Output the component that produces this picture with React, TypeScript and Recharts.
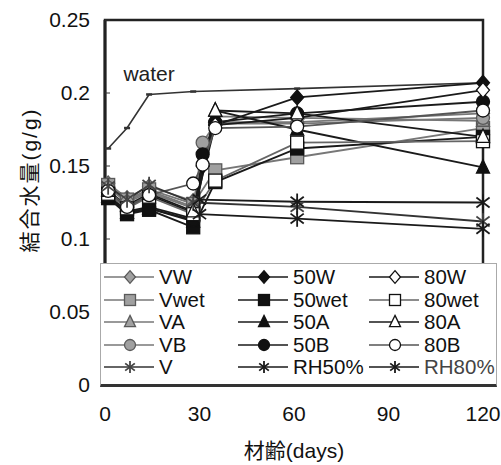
import React from 'react';
import {
  LineChart,
  Line,
  XAxis,
  YAxis,
  ReferenceArea,
  ReferenceDot,
  Legend,
} from 'recharts';

const FONT = "'Liberation Sans', Arial, 'Noto Sans CJK JP', sans-serif";

// days on which each group was measured
const DAYS_STD = [1, 7, 14, 28, 35, 61, 120];
const DAYS_B = [1, 7, 14, 28, 31, 35, 61, 120];
const DAYS_V = [1, 7, 14, 28, 61, 120];
const DAYS_RH = [30, 61, 120];
const DAYS_WATER = [1, 7, 14, 28, 61, 120];

const xTicks = [0, 30, 60, 90, 120];
const yTicks = [0, 0.05, 0.1, 0.15, 0.2, 0.25];

// bound water (g/g)
const waterValues = [0.162, 0.176, 0.199, 0.201, 0.203, 0.207];

const vwValues = [0.138, 0.128, 0.136, 0.126, 0.18, 0.18, 0.186];
const vwetValues = [0.137, 0.127, 0.134, 0.124, 0.147, 0.156, 0.176];
const vaValues = [0.136, 0.126, 0.133, 0.122, 0.184, 0.183, 0.181];
const vbValues = [0.135, 0.125, 0.132, 0.121, 0.166, 0.179, 0.179, 0.183];
const vValues = [0.136, 0.127, 0.137, 0.125, 0.122, 0.112];

const w50Values = [0.13, 0.119, 0.122, 0.114, 0.15, 0.178, 0.197, 0.207];
const wet50Values = [0.128, 0.117, 0.12, 0.108, 0.139, 0.162, 0.17];
const a50Values = [0.129, 0.118, 0.121, 0.112, 0.188, 0.175, 0.149];
const b50Values = [0.129, 0.118, 0.121, 0.113, 0.158, 0.18, 0.186, 0.194];

const w80Values = [0.132, 0.122, 0.13, 0.118, 0.178, 0.183, 0.202];
const wet80Values = [0.131, 0.121, 0.129, 0.117, 0.14, 0.166, 0.167];
const a80Values = [0.133, 0.123, 0.131, 0.119, 0.188, 0.186, 0.17];
const b80Values = [0.133, 0.122, 0.13, 0.138, 0.151, 0.176, 0.177, 0.188];

const rh50Values = [0.127, 0.1255, 0.125];
const rh80Values = [0.117, 0.114, 0.107];

type Shape = 'diamond' | 'square' | 'triangle' | 'circle' | 'star' | 'dash';

interface Series {
  name: string;
  days: number[];
  values: number[];
  shape: Shape;
  fill: string;
  stroke: string;
  line: string;
}

const GRAY = '#a0a0a0';
const GRAY_EDGE = '#5a5a5a';
const BLACK = '#111';

const vSeries: Series[] = [
  { name: 'VW', days: DAYS_STD, values: vwValues, shape: 'diamond', fill: GRAY, stroke: GRAY_EDGE, line: '#777' },
  { name: 'Vwet', days: DAYS_STD, values: vwetValues, shape: 'square', fill: GRAY, stroke: GRAY_EDGE, line: '#777' },
  { name: 'VA', days: DAYS_STD, values: vaValues, shape: 'triangle', fill: GRAY, stroke: GRAY_EDGE, line: '#777' },
  { name: 'VB', days: DAYS_B, values: vbValues, shape: 'circle', fill: GRAY, stroke: GRAY_EDGE, line: '#777' },
  { name: 'V', days: DAYS_V, values: vValues, shape: 'star', fill: 'none', stroke: '#444', line: '#333' },
];

const s50: Series[] = [
  { name: '50W', days: DAYS_B, values: w50Values, shape: 'diamond', fill: BLACK, stroke: BLACK, line: '#1a1a1a' },
  { name: '50wet', days: DAYS_STD, values: wet50Values, shape: 'square', fill: BLACK, stroke: BLACK, line: '#1a1a1a' },
  { name: '50A', days: DAYS_STD, values: a50Values, shape: 'triangle', fill: BLACK, stroke: BLACK, line: '#1a1a1a' },
  { name: '50B', days: DAYS_B, values: b50Values, shape: 'circle', fill: BLACK, stroke: BLACK, line: '#1a1a1a' },
  { name: 'RH50%', days: DAYS_RH, values: rh50Values, shape: 'star', fill: 'none', stroke: '#1a1a1a', line: '#1a1a1a' },
];

const s80: Series[] = [
  { name: '80W', days: DAYS_STD, values: w80Values, shape: 'diamond', fill: '#fff', stroke: BLACK, line: '#1a1a1a' },
  { name: '80wet', days: DAYS_STD, values: wet80Values, shape: 'square', fill: '#fff', stroke: BLACK, line: '#666' },
  { name: '80A', days: DAYS_STD, values: a80Values, shape: 'triangle', fill: '#fff', stroke: BLACK, line: '#1a1a1a' },
  { name: '80B', days: DAYS_B, values: b80Values, shape: 'circle', fill: '#fff', stroke: BLACK, line: '#555' },
  { name: 'RH80%', days: DAYS_RH, values: rh80Values, shape: 'star', fill: 'none', stroke: '#1a1a1a', line: '#1a1a1a' },
];

const legendColumns = [vSeries, s50, s80];
const drawOrder = [...vSeries.slice(0, 4), ...s50.slice(0, 4), ...s80.slice(0, 4), vSeries[4], s50[4], s80[4]];

const toPoints = (days: number[], values: number[]) =>
  days.map((d, i) => ({ d, v: values[i] }));

function Marker({ shape, cx, cy, s, fill, stroke }: { shape: Shape; cx: number; cy: number; s: number; fill: string; stroke: string }) {
  if (cx == null || cy == null) return null;
  switch (shape) {
    case 'diamond':
      return <polygon points={`${cx},${cy - s * 1.15} ${cx + s},${cy} ${cx},${cy + s * 1.15} ${cx - s},${cy}`} fill={fill} stroke={stroke} strokeWidth={1.3} />;
    case 'square':
      return <rect x={cx - s} y={cy - s} width={2 * s} height={2 * s} fill={fill} stroke={stroke} strokeWidth={1.3} />;
    case 'triangle':
      return <polygon points={`${cx},${cy - s * 1.2} ${cx + s},${cy + s * 0.85} ${cx - s},${cy + s * 0.85}`} fill={fill} stroke={stroke} strokeWidth={1.3} />;
    case 'circle':
      return <circle cx={cx} cy={cy} r={s} fill={fill} stroke={stroke} strokeWidth={1.3} />;
    case 'star': {
      const a = s * 1.1;
      const dx = a * 0.8;
      const dy = a * 0.6;
      return (
        <g stroke={stroke} strokeWidth={1.8}>
          <line x1={cx} y1={cy - a} x2={cx} y2={cy + a} />
          <line x1={cx - dx} y1={cy - dy} x2={cx + dx} y2={cy + dy} />
          <line x1={cx - dx} y1={cy + dy} x2={cx + dx} y2={cy - dy} />
        </g>
      );
    }
    case 'dash':
      return <line x1={cx - 3} y1={cy} x2={cx + 3} y2={cy} stroke={stroke} strokeWidth={2.5} />;
  }
  return null;
}

function LegendBox() {
  const colX = [3, 137, 268];
  return (
    <div
      style={{
        position: 'relative',
        width: 397,
        height: 124,
        boxSizing: 'border-box',
        background: '#fff',
        borderTop: '1px solid #aaa',
        borderLeft: '1px solid #aaa',
        borderRight: '1px solid #aaa',
        borderBottom: '3px solid #333',
        fontFamily: FONT,
      }}
    >
      {legendColumns.map((col, c) =>
        col.map((s, r) => (
          <div
            key={s.name}
            style={{
              position: 'absolute',
              left: colX[c],
              top: 2 + r * 22.5,
              height: 22.5,
              display: 'flex',
              alignItems: 'center',
            }}
          >
            <svg width={52} height={22} style={{ display: 'block' }}>
              <line x1={0} y1={11} x2={50} y2={11} stroke={s.line} strokeWidth={1.6} />
              <Marker shape={s.shape} cx={26} cy={11} s={5.5} fill={s.fill} stroke={s.stroke} />
            </svg>
            <span style={{ marginLeft: 3, fontSize: 20.5, color: s.name === 'RH80%' ? '#444' : '#111', lineHeight: '22px' }}>
              {s.name}
            </span>
          </div>
        ))
      )}
    </div>
  );
}

const YLabel = () => (
  <text
    x={29}
    y={180}
    transform="rotate(-90 29 180)"
    textAnchor="middle"
    dominantBaseline="central"
    fontSize={21}
    fill="#111"
    fontFamily={FONT}
    letterSpacing={2}
  >
    結合水量(g/g)
  </text>
);

export default function App() {
  return (
    <div style={{ position: 'absolute', left: 0, top: 0, width: 501, height: 465, background: '#fff' }}>
      <LineChart width={501} height={465} margin={{ top: 20, right: 18, bottom: 20, left: 0 }}>
        <XAxis
          dataKey="d"
          type="number"
          domain={[0, 120]}
          ticks={xTicks}
          interval={0}
          height={60}
          tickLine={false}
          tickSize={0}
          tickMargin={21}
          axisLine={{ stroke: '#222', strokeWidth: 2.5 }}
          tick={{ fontSize: 21, fill: '#111', fontFamily: FONT }}
          label={{ value: '材齢(days)', position: 'insideBottom', offset: -13, fontSize: 21, fill: '#111', fontFamily: FONT }}
        />
        <YAxis
          type="number"
          domain={[0, 0.25]}
          ticks={yTicks}
          interval={0}
          width={105}
          tickSize={-5}
          tickMargin={20}
          tickFormatter={(v) => String(v)}
          tickLine={{ stroke: '#333' }}
          axisLine={{ stroke: '#222', strokeWidth: 3 }}
          tick={{ fontSize: 21, fill: '#111', fontFamily: FONT }}
          label={{ content: () => <YLabel /> }}
        />
        <ReferenceArea x1={0} x2={120} y1={0} y2={0.25} fill="none" stroke="#222" strokeWidth={2.5} />
        <ReferenceDot
          x={14}
          y={0.213}
          r={1}
          fill="none"
          stroke="none"
          label={{ value: 'water', position: 'center', fontSize: 21, fill: '#222', fontFamily: FONT }}
        />
        <Line
          data={toPoints(DAYS_WATER, waterValues)}
          dataKey="v"
          type="linear"
          stroke="#333"
          strokeWidth={1.6}
          isAnimationActive={false}
          activeDot={false}
          dot={(p: any) => <Marker key={`water-${p.index}`} shape="dash" cx={p.cx} cy={p.cy} s={3} fill="#333" stroke="#333" />}
        />
        {drawOrder.map((s) => (
          <Line
            key={s.name}
            name={s.name}
            data={toPoints(s.days, s.values)}
            dataKey="v"
            type="linear"
            stroke={s.line}
            strokeWidth={1.8}
            isAnimationActive={false}
            activeDot={false}
            dot={(p: any) => (
              <Marker key={`${s.name}-${p.index}`} shape={s.shape} cx={p.cx} cy={p.cy} s={s.shape === 'star' ? 7.5 : 6.5} fill={s.fill} stroke={s.stroke} />
            )}
          />
        ))}
        <Legend
          verticalAlign="middle"
          align="center"
          layout="horizontal"
          content={() => <LegendBox />}
          wrapperStyle={{ left: 100, top: 263, width: 397, height: 124 }}
        />
      </LineChart>
    </div>
  );
}
